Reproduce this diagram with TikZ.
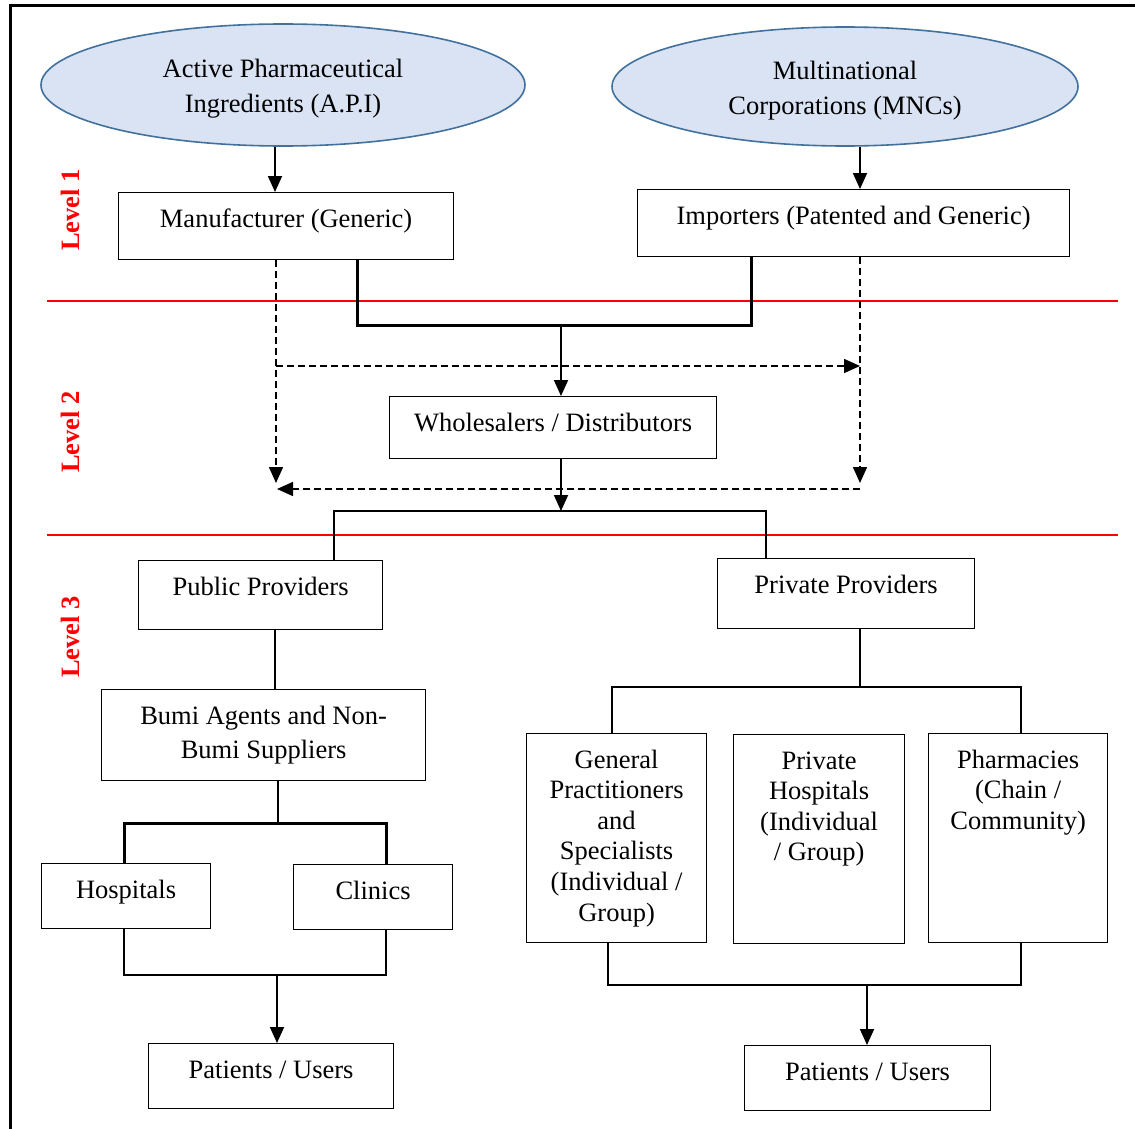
\documentclass[tikz,border=0pt]{standalone}
\usepackage{fontspec}
\setmainfont{Liberation Serif}
\usepackage{tikz}
\usetikzlibrary{arrows.meta,shapes.geometric}

\definecolor{apifill}{RGB}{218,227,243}
\definecolor{apiline}{RGB}{65,113,156}

% text placed at the top of a fixed size box
\newcommand{\boxtext}[3]{\parbox[c][#2pt][t]{#1pt}{\vspace*{13pt}\centering\strut #3}}
% two lines in an ellipse
\newcommand{\srctext}[2]{\parbox{260pt}{\vspace*{8pt}\centering #1\\[4.4pt]#2}}

\begin{document}
\begin{tikzpicture}[x=1pt, y=-1pt, >={Triangle[length=16pt,width=14pt]},
	font=\fontsize{26.5}{30.6}\selectfont,
	source/.style={ellipse, draw=apiline, fill=apifill, line width=1.6pt, inner sep=0pt},
	box/.style={rectangle, draw, line width=1.2pt, inner sep=0pt, anchor=north west},
	level/.style={rotate=90, text=red, font=\fontsize{26.5}{30}\selectfont\bfseries},
	line/.style={line width=1.8pt},
	bracket/.style={line width=3pt},
	arr/.style={->, line width=1.8pt},
	dasharr/.style={->, line width=1.6pt, dash pattern=on 7pt off 4pt}]

	\useasboundingbox (0,0) rectangle (1135,1129);
	\draw [line width=3pt] (10,1140) -- (10,6) -- (1140,6);

	% Level separators {1|2, 2|3}
	\draw [red, line width=1.8pt] (47,301) -- (1118,301);
	\draw [red, line width=1.8pt] (47,535) -- (1118,535);
	\node [level] (lv1) at (70,210) {Level 1};
	\node [level] (lv2) at (70,432) {Level 2};
	\node [level] (lv3) at (70,637) {Level 3};

	% Nodes {api, mnc, man, imp, whole}
	\node [source, minimum width=484pt, minimum height=122pt] (api) at (283,85)   {\srctext{Active Pharmaceutical}{Ingredients (A.P.I)}};
	\node [source, minimum width=466pt, minimum height=119pt] (mnc) at (845,86.5) {\srctext{Multinational}{Corporations (MNCs)}};
	\node [box] (man)   at (118,192) {\boxtext{335}{67}{Manufacturer (Generic)}};
	\node [box] (imp)   at (637,189) {\boxtext{432}{67}{Importers (Patented and Generic)}};
	\node [box] (whole) at (389,396) {\boxtext{327}{62}{Wholesalers / Distributors}};

	% Nodes {pub, bumi, hosp, clin, patl}
	\node [box] (pub)  at (138,560)  {\boxtext{244}{69}{Public Providers}};
	\node [box] (bumi) at (101,689)  {\boxtext{324}{91}{Bumi Agents and Non-\\[3.4pt]Bumi Suppliers}};
	\node [box] (hosp) at (41,863)   {\boxtext{169}{65}{Hospitals}};
	\node [box] (clin) at (293,864)  {\boxtext{159}{65}{Clinics}};
	\node [box] (patl) at (148,1043) {\boxtext{245}{65}{Patients / Users}};

	% Nodes {priv, gp, phosp, pharm, patr}
	\node [box] (priv)  at (717,558)  {\boxtext{257}{70}{Private Providers}};
	\node [box] (gp)    at (526,733)  {\boxtext{180}{209}{General\\Practitioners\\and\\Specialists\\(Individual /\\Group)}};
	\node [box] (phosp) at (733,734)  {\boxtext{171}{209}{Private\\Hospitals\\(Individual\\/ Group)}};
	\node [box] (pharm) at (928,733)  {\boxtext{179}{209}{Pharmacies\\(Chain /\\Community)}};
	\node [box] (patr)  at (744,1045) {\boxtext{246}{65}{Patients / Users}};

	% Junctions
	\coordinate (xa) at (275,0);
	\coordinate (xm) at (357,0);
	\coordinate (xi) at (751,0);
	\coordinate (xr) at (860,0);
	\coordinate (j1) at (561,325);
	\coordinate (midl) at (276,366);
	\coordinate (midr) at (860,366);
	\coordinate (lowl) at (276,483);
	\coordinate (lowr) at (860,483);
	\coordinate (botl) at (277,489);
	\coordinate (botr) at (860,489);
	\coordinate (j2) at (561,511);
	\coordinate (xpu) at (334,0);
	\coordinate (xpr) at (766,0);
	\coordinate (j3) at (278,823);
	\coordinate (xh) at (124,0);
	\coordinate (xc) at (386,0);
	\coordinate (j4) at (277,975);
	\coordinate (j5) at (860,687);
	\coordinate (xg) at (612,0);
	\coordinate (xf) at (1021,0);
	\coordinate (xgb) at (608,0);
	\coordinate (j6) at (867,985);

	% Paths: level 1 and 2
	\draw [arr] (api.south -| xa) -- (man.north -| xa);
	\draw [arr] (mnc.south -| xr) -- (imp.north -| xr);
	\draw [bracket] (man.south -| xm) |- (j1) -| (imp.south -| xi);
	\draw [arr] (j1) -- (whole.north -| j1);
	\draw [dasharr] (man.south -| midl) -- (lowl);
	\draw [dasharr] (midl) -- (midr);
	\draw [dasharr] (imp.south -| midr) -- (lowr);
	\draw [dasharr] (botr) -- (botl);
	\draw [arr] (whole.south -| j2) -- (j2);

	% Paths: level 3
	\draw [line] (pub.north -| xpu) |- (j2) -| (priv.north -| xpr);
	\draw [line] (pub.south -| xa) -- (bumi.north -| xa);
	\draw [line] (bumi.south -| j3) -- (j3);
	\draw [bracket] (hosp.north -| xh) |- (j3) -| (clin.north -| xc);
	\draw [line] (hosp.south -| xh) |- (j4) -| (clin.south -| xc);
	\draw [arr] (j4) -- (patl.north -| j4);
	\draw [line] (priv.south -| j5) -- (j5);
	\draw [line] (gp.north -| xg) |- (j5) -| (pharm.north -| xf);
	\draw [line] (gp.south -| xgb) |- (j6) -| (pharm.south -| xf);
	\draw [arr] (j6) -- (patr.north -| j6);

\end{tikzpicture}
\end{document}
